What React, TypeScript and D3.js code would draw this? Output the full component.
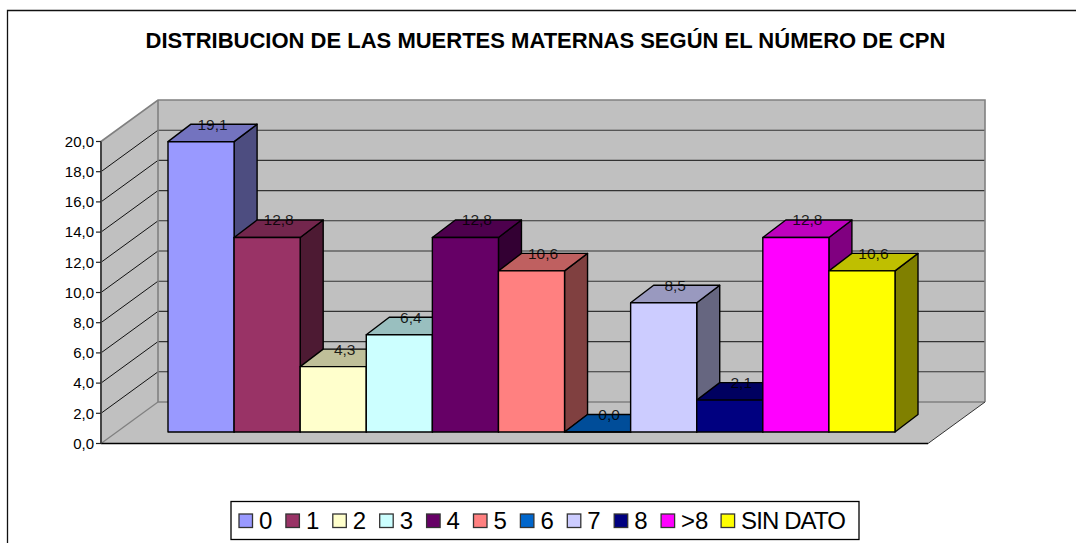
import React from "react";
import * as d3 from "d3";

const categories = ["0", "1", "2", "3", "4", "5", "6", "7", "8", ">8", "SIN DATO"];
const values = [19.1, 12.8, 4.3, 6.4, 12.8, 10.6, 0.0, 8.5, 2.1, 12.8, 10.6];
const colors = ["#9999FF", "#993366", "#FFFFCC", "#CCFFFF", "#660066", "#FF8080", "#0066CC", "#CCCCFF", "#000080", "#FF00FF", "#FFFF00"];
const yTicks = [0, 2, 4, 6, 8, 10, 12, 14, 16, 18, 20];
const title = "DISTRIBUCION DE LAS MUERTES MATERNAS SEGÚN EL NÚMERO DE CPN";

const W = 1076, H = 543;
const fmt = (v: number) => v.toFixed(1).replace(".", ",");
const shade = (c: string, k: number) => {
  const r = d3.rgb(c);
  return d3.rgb(r.r * k, r.g * k, r.b * k).formatHex();
};
const poly = (pts: [number, number][]) => d3.line()(pts) + "Z";

export default function App() {
  const font = "'Liberation Sans', Arial, sans-serif";
  const frontY = d3.scaleLinear().domain([0, 20]).range([443.5, 141.5]);
  const backY = d3.scaleLinear().domain([0, 20]).range([402, 100]);
  const barY = d3.scaleLinear().domain([0, 20]).range([432, 128]);
  const x0 = 101, wallX = 158, wallR = 985, floorR = 928;
  const x = d3.scaleBand().domain(categories).range([168, 895]).paddingInner(0).paddingOuter(0);
  const bw = x.bandwidth();
  const dx = 23, dy = -17.5;

  let lx = 239;
  const legend = categories.map((c, i) => {
    const item = { c, i, x: lx };
    lx += c.length === 1 ? 46.9 : 60;
    return item;
  });

  return (
    <svg width={W} height={H} style={{ position: "absolute", left: 0, top: 0, background: "#fff" }} fontFamily={font}>
      <path d={`M7.5,${H}V10.5H${W}`} fill="none" stroke="#111" strokeWidth={1.3} />
      <text x={545.5} y={47.5} textAnchor="middle" fontSize={22} fontWeight="bold" fill="#000">{title}</text>

      {/* walls and floor */}
      <path d={poly([[x0, frontY(20)], [wallX, backY(20)], [wallX, backY(0)], [x0, frontY(0)]])} fill="#C0C0C0" />
      <path d={poly([[wallX, backY(20)], [wallR, backY(20)], [wallR, backY(0)], [wallX, backY(0)]])} fill="#C0C0C0" />
      <path d={poly([[x0, frontY(0)], [wallX, backY(0)], [wallR, backY(0)], [floorR, frontY(0)]])} fill="#C0C0C0" />
      {yTicks.filter((t) => t > 0 && t < 20).map((t) => (
        <g key={t} fill="none" stroke="#333" strokeWidth={1.1}>
          <path d={`M${x0},${frontY(t)}L${wallX},${backY(t)}`} stroke="#111" strokeWidth={1} />
          <path d={`M${wallX},${backY(t)}H${wallR}`} />
        </g>
      ))}
      <path d={`M${x0},${frontY(20)}L${wallX},${backY(20)}H${wallR}V${backY(0)}`} fill="none" stroke="#808080" strokeWidth={1.6} />
      <path d={`M${wallX},${backY(20)}V${backY(0)}H${wallR}`} fill="none" stroke="#808080" strokeWidth={1.6} />
      <path d={`M${x0},${frontY(0)}L${wallX},${backY(0)}`} fill="none" stroke="#808080" strokeWidth={1.3} />
      <path d={`M${x0},${frontY(0)}H${floorR}`} fill="none" stroke="#000" strokeWidth={1.3} />
      <path d={`M${floorR},${frontY(0)}L${wallR},${backY(0)}`} fill="none" stroke="#333" strokeWidth={1} />
      <path d={`M${x0},${frontY(20)}V${frontY(0)}`} fill="none" stroke="#444" strokeWidth={2} />

      {/* axis */}
      {yTicks.map((t) => (
        <g key={t}>
          <path d={`M${x0 - 5},${frontY(t)}H${x0}`} stroke="#222" strokeWidth={1.2} />
          <text x={x0 - 7} y={frontY(t) + 5.2} textAnchor="end" fontSize={15} fill="#000">{fmt(t)}</text>
        </g>
      ))}

      {/* bars */}
      {categories.map((c, i) => {
        const l = x(c)!, r = l + bw, t = barY(values[i]), b = barY(0);
        return (
          <g key={c} stroke="#000" strokeWidth={1.4} strokeLinejoin="round">
            <path d={poly([[r, t], [r + dx, t + dy], [r + dx, b + dy], [r, b]])} fill={shade(colors[i], 0.5)} />
            <path d={poly([[l, t], [l + dx, t + dy], [r + dx, t + dy], [r, t]])} fill={shade(colors[i], 0.75)} />
            <path d={poly([[l, t], [r, t], [r, b], [l, b]])} fill={colors[i]} />
          </g>
        );
      })}

      {/* value labels */}
      {categories.map((c, i) => (
        <text key={c} x={x(c)! + bw / 2 + dx / 2} y={barY(values[i]) + dy + 5.5} textAnchor="middle" fontSize={15.5} fill="#000" fillOpacity={0.85}>
          {fmt(values[i])}
        </text>
      ))}

      {/* legend */}
      <rect x={231} y={501.5} width={628} height={38} fill="#fff" stroke="#000" strokeWidth={1.3} />
      {legend.map((d) => (
        <g key={d.c}>
          <rect x={d.x} y={514} width={13.5} height={13.5} fill={colors[d.i]} stroke="#333" strokeWidth={1.3} />
          <text x={d.x + 20} y={529} fontSize={24} letterSpacing={d.c.length > 2 ? -0.9 : 0} fill="#000">{d.c}</text>
        </g>
      ))}
    </svg>
  );
}
